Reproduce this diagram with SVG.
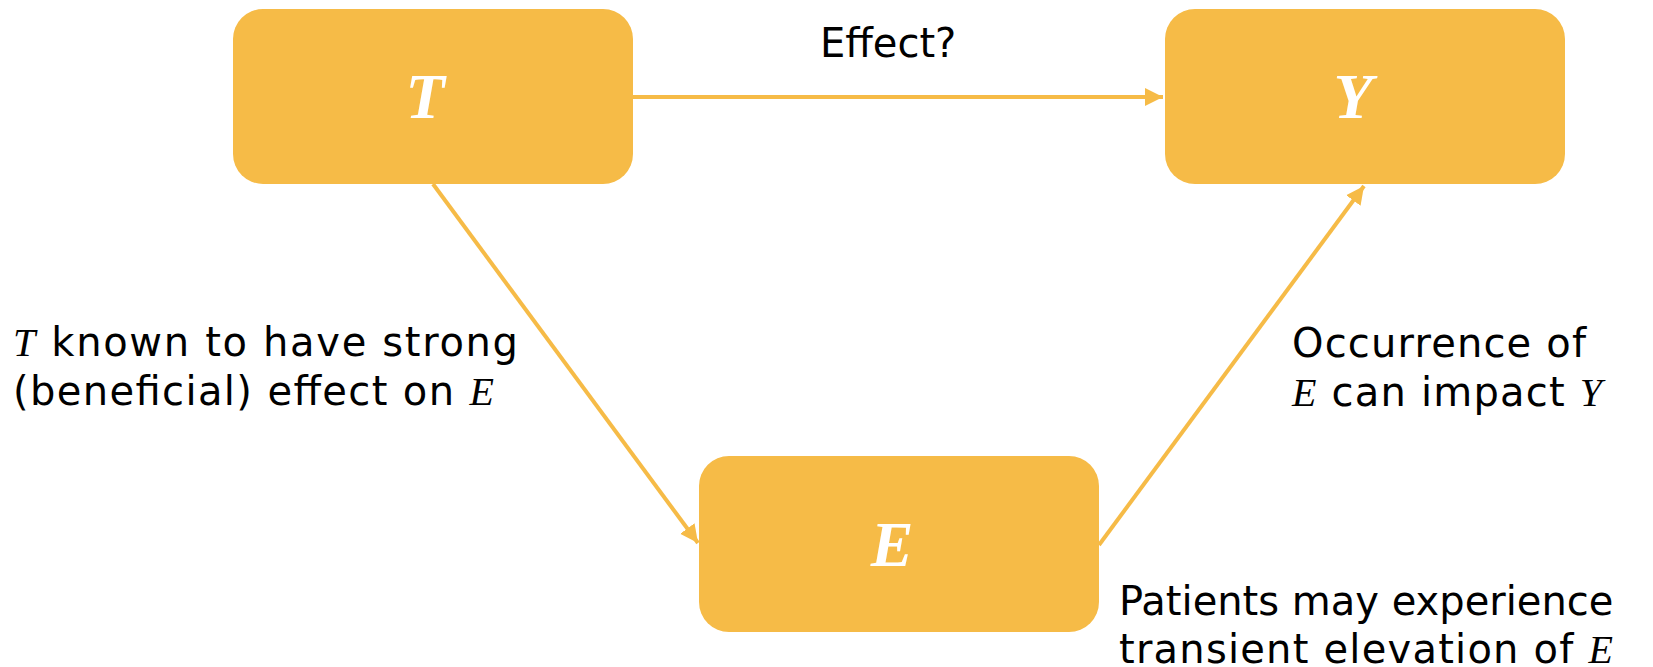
<svg xmlns="http://www.w3.org/2000/svg" width="1653" height="667" viewBox="0 0 1653 667">
<style>
.box{fill:#F6BB47}
.lbl{font-family:"Liberation Serif",serif;font-weight:bold;font-style:italic;font-size:64px;fill:#fff;text-anchor:middle}
.edge{stroke:#F6BB47;stroke-width:4;fill:none}
.t{font-family:"DejaVu Sans",Verdana,sans-serif;font-size:40px;fill:#000}
.m{font-family:"Liberation Serif",serif;font-style:italic}
</style>
<defs>
<marker id="ah" markerUnits="userSpaceOnUse" markerWidth="20" markerHeight="20" viewBox="0 0 20 20" refX="18" refY="10" orient="auto">
<path d="M0,1 L18,10 L0,19 Z" fill="#F6BB47"/>
</marker>
</defs>
<g id="edges">
<line class="edge" x1="633" y1="97" x2="1163" y2="97" marker-end="url(#ah)"/>
<line class="edge" x1="433" y1="184" x2="698" y2="543" marker-end="url(#ah)"/>
<line class="edge" x1="1099" y1="545" x2="1364" y2="186" marker-end="url(#ah)"/>
</g>
<g id="node-T">
<rect class="box" x="233" y="9" width="400" height="175" rx="30"/>
<text class="lbl" x="425" y="118">T</text>
</g>
<g id="node-Y">
<rect class="box" x="1165" y="9" width="400" height="175" rx="30"/>
<text class="lbl" x="1353" y="118">Y</text>
</g>
<g id="node-E">
<rect class="box" x="699" y="456" width="400" height="176" rx="30"/>
<text class="lbl" x="892" y="566">E</text>
</g>
<g id="labels">
<text class="t" x="820" y="57">Effect?</text>
<text class="t" x="13" y="356" textLength="505" lengthAdjust="spacing"><tspan class="m">T</tspan> known to have strong</text>
<text class="t" x="13" y="405" textLength="481" lengthAdjust="spacing">(beneficial) effect on <tspan class="m">E</tspan></text>
<text class="t" x="1292" y="357" textLength="294" lengthAdjust="spacing">Occurrence of</text>
<text class="t" x="1292" y="406" textLength="310" lengthAdjust="spacing"><tspan class="m">E</tspan> can impact <tspan class="m">Y</tspan></text>
<text class="t" x="1119" y="615">Patients may experience</text>
<text class="t" x="1119" y="663" textLength="494" lengthAdjust="spacing">transient elevation of <tspan class="m">E</tspan></text>
</g>
</svg>
